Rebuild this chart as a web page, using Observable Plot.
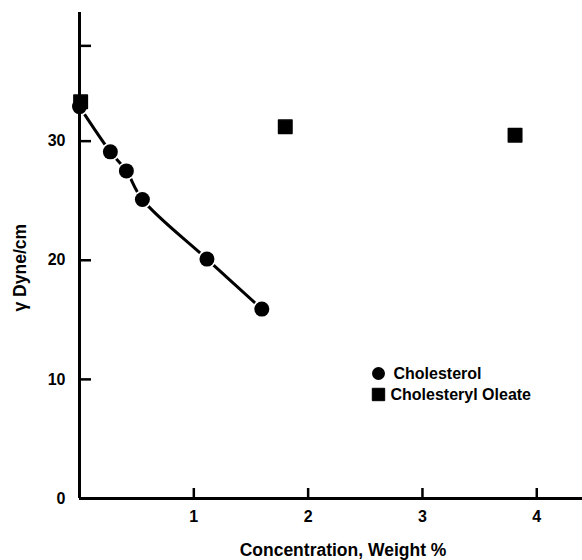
<!DOCTYPE html>
<html>
<head>
<meta charset="utf-8">
<script src="https://cdn.jsdelivr.net/npm/d3@7"></script>
<script src="https://cdn.jsdelivr.net/npm/@observablehq/plot@0.6"></script>
<style>
  html, body { margin: 0; padding: 0; background: #fff; }
  #chart svg { display: block; }
</style>
</head>
<body>
<div id="chart"></div>
<script>
// Cholesterol
const cholConc = [0, 0.27, 0.41, 0.55, 1.115, 1.595];
const cholGamma = [32.9, 29.1, 27.5, 25.1, 20.1, 15.9];
// Cholesteryl Oleate
const oleateConc = [0.01, 1.8, 3.81];
const oleateGamma = [33.3, 31.2, 30.5];
// Axis ticks
const xTicks = [1, 2, 3, 4];
const yTicks = [0, 10, 20, 30, 38];
const yTickLabels = ["0", "10", "20", "30", ""];
const seriesNames = ["Cholesterol", "Cholesteryl Oleate"];
const xLabel = "Concentration, Weight %";
const yLabel = "γ Dyne/cm";

const chol = cholConc.map((c, i) => ({conc: c, gamma: cholGamma[i]}));
const oleate = oleateConc.map((c, i) => ({conc: c, gamma: oleateGamma[i]}));

const font = "'Liberation Sans', Arial, sans-serif";

const plot = Plot.plot({
  width: 582,
  height: 560,
  marginLeft: 79,
  marginRight: 0,
  marginTop: 12,
  marginBottom: 62,
  style: {fontFamily: font, fontSize: "16px", fontWeight: "bold", color: "#000", background: "#fff"},
  x: {domain: [0, 4.40]},
  y: {domain: [0, 40.8]},
  marks: [
    Plot.line(chol, {x: "conc", y: "gamma", curve: "catmull-rom", stroke: "#000", strokeWidth: 3}),
    Plot.dot(chol, {x: "conc", y: "gamma", r: 7.5, fill: "#000", stroke: "#fff", strokeWidth: 3.5, paintOrder: "stroke"}),
    Plot.dot(oleate, {x: "conc", y: "gamma", symbol: "square", r: 7.6, fill: "#000", stroke: "#000", strokeWidth: 1.5, strokeLinejoin: "round"}),
    Plot.ruleX([0], {stroke: "#000", strokeWidth: 3}),
    Plot.ruleY([0], {stroke: "#000", strokeWidth: 3}),
    Plot.axisY({ticks: yTicks, tickFormat: (d) => yTickLabels[yTicks.indexOf(d)], tickSize: -12, tickPadding: 26, strokeWidth: 2.5, label: null, fontSize: 16}),
    Plot.axisX({ticks: xTicks, tickFormat: d => String(d), tickSize: -10, tickPadding: 22, strokeWidth: 2.5, label: null, fontSize: 16}),
    Plot.text([xLabel], {frameAnchor: "bottom", dx: 12, dy: 57, fontSize: 17.5, fontWeight: "bold"}),
    Plot.text([yLabel], {frameAnchor: "left", rotate: -90, dx: -59, dy: 56, fontSize: 17.5, fontWeight: "bold"}),
    // legend
    Plot.dot([seriesNames[0]], {frameAnchor: "top-left", dx: 299, dy: 361, r: 6.5, fill: "#000"}),
    Plot.text([seriesNames[0]], {frameAnchor: "top-left", dx: 314, dy: 361, textAnchor: "start", lineAnchor: "middle", fontSize: 16}),
    Plot.dot([seriesNames[1]], {frameAnchor: "top-left", dx: 299, dy: 382, symbol: "square", r: 7, fill: "#000", stroke: "#000", strokeWidth: 1, strokeLinejoin: "round"}),
    Plot.text([seriesNames[1]], {frameAnchor: "top-left", dx: 311, dy: 382, textAnchor: "start", lineAnchor: "middle", fontSize: 16, letterSpacing: "0.6px"})
  ]
});
document.getElementById("chart").append(plot);
</script>
</body>
</html>
